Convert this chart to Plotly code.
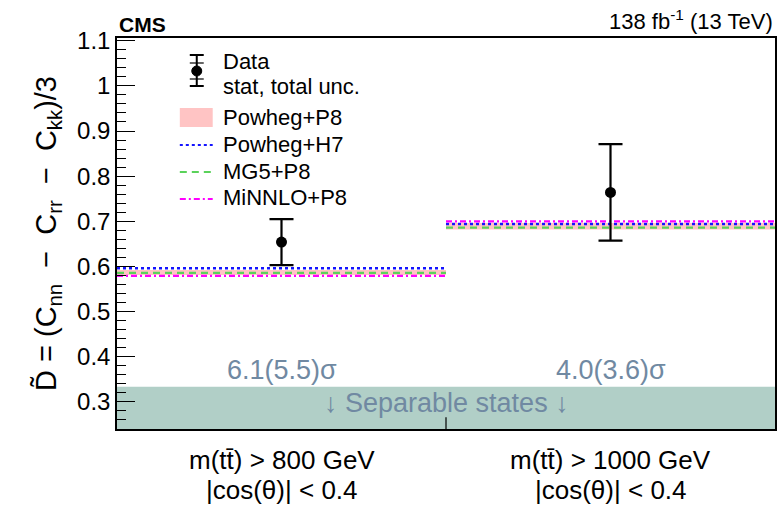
import plotly.graph_objects as go

# ---- data ----
bin_edges = [0, 1, 2]
bin_centers = [0.5, 1.5]
bin_line1 = ["m(tt\u0304) > 800 GeV", "m(tt\u0304) > 1000 GeV"]
bin_line2 = ["|cos(\u03b8)| < 0.4", "|cos(\u03b8)| < 0.4"]
data_y = [0.654, 0.764]
data_err_up = [0.051, 0.107]
data_err_dn = [0.051, 0.107]
powheg_p8_lo = [0.581, 0.682]
powheg_p8_hi = [0.592, 0.696]
powheg_h7 = [0.596, 0.694]
mg5_p8 = [0.586, 0.686]
minnlo_p8 = [0.579, 0.700]
significance = ["6.1(5.5)\u03c3", "4.0(3.6)\u03c3"]
separable_limit = 1 / 3
y_range = [0.24, 1.106]

FONT = "Liberation Sans, Arial, sans-serif"
TXT_COL = "rgb(112,137,162)"
C_BAND = "rgb(255,196,196)"
C_H7 = "rgb(20,20,255)"
C_MG5 = "rgb(90,210,90)"
C_MIN = "rgb(255,0,255)"
D_H7 = "3px,3px"
D_MG5 = "7px,5px"
D_MIN = "6px,3px,2px,3px"

W, H = 778, 507
ML, MR, MT, MB = 117, 1, 38, 78
PW, PH = W - ML - MR, H - MT - MB


def px(x):
    return (x - ML) / PW


def py(y):
    return 1 - (y - MT) / PH


def step(vals):
    xs, ys = [], []
    for i, v in enumerate(vals):
        if i:
            xs.append(None); ys.append(None)
        xs += [bin_edges[i], bin_edges[i + 1]]
        ys += [v, v]
    return xs, ys


def band(lo, hi):
    xs, ys = [], []
    for i in range(len(lo)):
        if i:
            xs.append(None); ys.append(None)
        a, b = bin_edges[i], bin_edges[i + 1]
        xs += [a, b, b, a, a]
        ys += [lo[i], lo[i], hi[i], hi[i], lo[i]]
    return xs, ys


fig = go.Figure()

# separable region
fig.add_trace(go.Scatter(x=[bin_edges[0], bin_edges[-1], bin_edges[-1], bin_edges[0]],
                         y=[y_range[0], y_range[0], separable_limit, separable_limit],
                         fill="toself", fillcolor="rgb(177,207,199)", line=dict(width=0),
                         mode="lines", showlegend=False, hoverinfo="skip"))

bx, by = band(powheg_p8_lo, powheg_p8_hi)
fig.add_trace(go.Scatter(x=bx, y=by, fill="toself", fillcolor=C_BAND,
                         line=dict(width=0), mode="lines", name="Powheg+P8", showlegend=False))

sx, sy = step(powheg_h7)
fig.add_trace(go.Scatter(x=sx, y=sy, mode="lines", name="Powheg+H7", showlegend=False,
                         line=dict(color=C_H7, width=2.3, dash=D_H7)))
sx, sy = step(mg5_p8)
fig.add_trace(go.Scatter(x=sx, y=sy, mode="lines", name="MG5+P8", showlegend=False,
                         line=dict(color=C_MG5, width=2.3, dash=D_MG5)))
sx, sy = step(minnlo_p8)
fig.add_trace(go.Scatter(x=sx, y=sy, mode="lines", name="MiNNLO+P8", showlegend=False,
                         line=dict(color=C_MIN, width=2.3, dash=D_MIN)))

# data
fig.add_trace(go.Scatter(x=bin_centers, y=data_y, mode="markers", showlegend=False,
                         marker=dict(color="black", size=11),
                         error_y=dict(type="data", array=data_err_up, arrayminus=data_err_dn,
                                      color="black", thickness=2.2, width=12),
                         name="Data"))

annotations = []
for xc, s in zip(bin_centers, significance):
    annotations.append(dict(x=xc, y=0.371, xref="x", yref="y", text=s, showarrow=False,
                            font=dict(family=FONT, size=27, color=TXT_COL)))
annotations.append(dict(x=1, y=0.298, xref="x", yref="y", text="\u2193 Separable states \u2193",
                        showarrow=False, font=dict(family=FONT, size=27, color=TXT_COL)))
for xc, l1, l2 in zip(bin_centers, bin_line1, bin_line2):
    annotations.append(dict(x=xc, y=0, xref="x", yref="paper", text=l1, showarrow=False,
                            yanchor="middle", yshift=-31, font=dict(family=FONT, size=26)))
    annotations.append(dict(x=xc, y=0, xref="x", yref="paper", text=l2, showarrow=False,
                            yanchor="middle", yshift=-61, font=dict(family=FONT, size=26)))
annotations.append(dict(x=0, y=1.0, xref="paper", yref="paper", xanchor="left", yanchor="bottom",
                        text="<b>CMS</b>", showarrow=False, yshift=0,
                        font=dict(family=FONT, size=21, color="black")))
annotations.append(dict(x=1, y=1.0, xref="paper", yref="paper", xanchor="right", yanchor="bottom",
                        text="138 fb<sup>-1</sup> (13 TeV)", showarrow=False, yshift=2,
                        font=dict(family=FONT, size=22, color="black")))

# manual legend (positions in pixels of the reference)
leg_text = [("Data", 62), ("stat, total unc.", 86), ("Powheg+P8", 117),
            ("Powheg+H7", 144), ("MG5+P8", 171), ("MiNNLO+P8", 198)]
for t, yy in leg_text:
    annotations.append(dict(x=px(221), y=py(yy), xref="paper", yref="paper", xanchor="left",
                            yanchor="middle", text=t, showarrow=False,
                            font=dict(family=FONT, size=22, color="black")))

shapes = [dict(type="line", xref="x", yref="paper", x0=1, x1=1, y0=0, y1=0.03,
               line=dict(color="black", width=1.2))]
# legend samples
shapes.append(dict(type="rect", xref="paper", yref="paper", x0=px(180), x1=px(213),
                   y0=py(127), y1=py(108), fillcolor=C_BAND, line=dict(width=0)))
for yy, col, d in [(145, C_H7, D_H7), (172, C_MG5, D_MG5), (199, C_MIN, D_MIN)]:
    shapes.append(dict(type="line", xref="paper", yref="paper", x0=px(180), x1=px(213),
                       y0=py(yy), y1=py(yy), line=dict(color=col, width=2.2, dash=d)))
# data sample: error bar with stat and total caps
shapes.append(dict(type="line", xref="paper", yref="paper", x0=px(197), x1=px(197),
                   y0=py(55), y1=py(86), line=dict(color="black", width=2)))
for yy in (55, 86):
    shapes.append(dict(type="line", xref="paper", yref="paper", x0=px(190), x1=px(204),
                       y0=py(yy), y1=py(yy), line=dict(color="black", width=2)))
for yy in (63, 79):
    shapes.append(dict(type="line", xref="paper", yref="paper", x0=px(190), x1=px(204),
                       y0=py(yy), y1=py(yy), line=dict(color="black", width=1.2)))
shapes.append(dict(type="circle", xref="paper", yref="paper", x0=px(192), x1=px(202),
                   y0=py(76), y1=py(66), fillcolor="black", line=dict(color="black", width=1)))

fig.update_layout(
    width=W, height=H,
    margin=dict(l=ML, r=MR, t=MT, b=MB),
    paper_bgcolor="white", plot_bgcolor="white",
    font=dict(family=FONT, color="black"),
    annotations=annotations,
    showlegend=False,
    xaxis=dict(range=[bin_edges[0], bin_edges[-1]], showticklabels=False,
               ticks="", showgrid=False, zeroline=False, showline=True, linecolor="black",
               linewidth=1.5, mirror=True),
    yaxis=dict(range=y_range, dtick=0.1, tick0=0, ticks="inside", ticklen=18, tickwidth=1.2,
               tickcolor="black", showgrid=False, zeroline=False, showline=True,
               linecolor="black", linewidth=1.5, mirror=True,
               tickfont=dict(family=FONT, size=24),
               minor=dict(dtick=0.02, ticks="inside", ticklen=9, tickcolor="black", tickwidth=1.2),
               title=dict(text="D\u0303 = (C<sub>nn</sub>  \u2212  C<sub>rr</sub>  \u2212  C<sub>kk</sub>)/3",
                          font=dict(family=FONT, size=29), standoff=12)),
    shapes=shapes,
)

fig.write_html("out.html", config={"displayModeBar": False},
               post_script="document.body.style.margin='0';")
